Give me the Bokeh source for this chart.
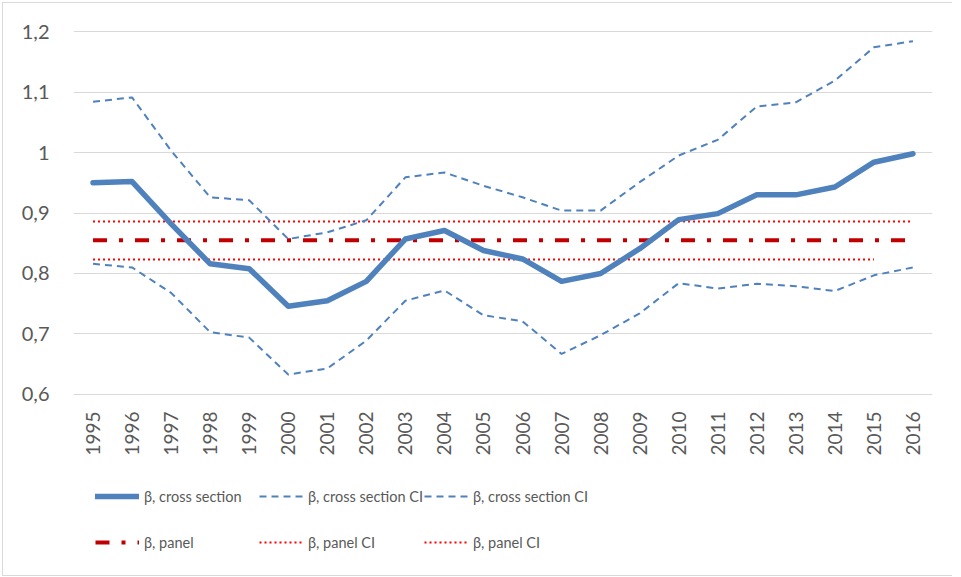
import math
from bokeh.plotting import figure
from bokeh.layouts import column
from bokeh.models import (Range1d, FixedTicker, Legend, LegendItem, ColumnDataSource)
from bokeh.embed import file_html
from bokeh.resources import INLINE

# ---------------- data ----------------
years = [1995, 1996, 1997, 1998, 1999, 2000, 2001, 2002, 2003, 2004, 2005,
         2006, 2007, 2008, 2009, 2010, 2011, 2012, 2013, 2014, 2015, 2016]
year_labels = [str(y) for y in years]

beta_cs = [0.950, 0.952, 0.882, 0.816, 0.808, 0.746, 0.755, 0.787, 0.857, 0.871, 0.838,
           0.824, 0.787, 0.800, 0.841, 0.889, 0.899, 0.930, 0.930, 0.943, 0.984, 0.998]
beta_cs_ci_upper = [1.084, 1.091, 1.003, 0.926, 0.921, 0.857, 0.868, 0.888, 0.959, 0.967, 0.945,
                    0.926, 0.904, 0.904, 0.951, 0.995, 1.021, 1.076, 1.083, 1.119, 1.174, 1.184]
beta_cs_ci_lower = [0.816, 0.810, 0.768, 0.703, 0.694, 0.633, 0.643, 0.689, 0.755, 0.772, 0.731,
                    0.721, 0.667, 0.698, 0.734, 0.784, 0.775, 0.783, 0.779, 0.771, 0.797, 0.810]
beta_panel = [0.855] * 22
beta_panel_ci_upper = [0.886] * 22
beta_panel_ci_lower = [0.823] * 21 + [float("nan")]

y_ticks = [0.6, 0.7, 0.8, 0.9, 1.0, 1.1, 1.2]
y_tick_labels = ["0,6", "0,7", "0,8", "0,9", "1", "1,1", "1,2"]

series_names = ["β, cross section", "β, cross section CI", "β, cross section CI",
                "β, panel", "β, panel CI", "β, panel CI"]

# ---------------- styling ----------------
BLUE = "#4f81bd"
DARK_RED = "#c00000"
RED = "#ff0000"
TEXT = "#595959"
GRID = "#d9d9d9"
FONT = "Lato"

STYLES = dict(
    pup=dict(line_color=RED, line_width=2, line_dash="2 3"),
    plo=dict(line_color=RED, line_width=2, line_dash="2 3"),
    pan=dict(line_color=DARK_RED, line_width=4, line_dash="14 12 4 12"),
    up=dict(line_color=BLUE, line_width=2, line_dash="7 5"),
    lo=dict(line_color=BLUE, line_width=2, line_dash="7 5"),
    cs=dict(line_color=BLUE, line_width=5.5, line_join="round", line_cap="round"),
)

src = ColumnDataSource(dict(x=years, cs=beta_cs, up=beta_cs_ci_upper, lo=beta_cs_ci_lower,
                            pan=beta_panel, pup=beta_panel_ci_upper, plo=beta_panel_ci_lower))

# ---------------- main chart ----------------
p = figure(width=965, height=476, output_backend="svg", toolbar_location=None,
           x_range=Range1d(1994.5, 2016.5), y_range=Range1d(0.5983, 1.2017),
           min_border_left=79, min_border_right=27, min_border_top=36, min_border_bottom=75)
p.outline_line_color = None
p.background_fill_color = "white"
p.border_fill_color = None

for key in ["pup", "plo", "pan", "up", "lo", "cs"]:
    p.line("x", key, source=src, **STYLES[key])

p.xaxis.ticker = FixedTicker(ticks=years)
p.xaxis.major_label_overrides = {y: l for y, l in zip(years, year_labels)}
p.xaxis.major_label_orientation = math.pi / 2
p.xaxis.axis_line_color = None
p.xaxis.major_tick_line_color = None
p.xaxis.minor_tick_line_color = None
p.xaxis.major_tick_out = 0
p.xaxis.major_tick_in = 0
p.xaxis.major_label_standoff = 16
p.xaxis.major_label_text_font = FONT
p.xaxis.major_label_text_font_size = "19px"
p.xaxis.major_label_text_color = TEXT

p.yaxis.ticker = FixedTicker(ticks=y_ticks)
p.yaxis.major_label_overrides = {t: l for t, l in zip(y_ticks, y_tick_labels)}
p.yaxis.axis_line_color = None
p.yaxis.major_tick_line_color = None
p.yaxis.minor_tick_line_color = None
p.yaxis.major_tick_out = 0
p.yaxis.major_tick_in = 0
p.yaxis.major_label_standoff = 24
p.yaxis.major_label_text_font = FONT
p.yaxis.major_label_text_font_size = "20px"
p.yaxis.major_label_text_color = TEXT

p.xgrid.grid_line_color = None
p.ygrid.ticker = FixedTicker(ticks=y_ticks)
p.ygrid.grid_line_color = GRID
p.ygrid.grid_line_width = 1

# ---------------- legend strip (frame aligned with the chart's frame) ----------------
q = figure(width=965, height=106, output_backend="svg", toolbar_location=None,
           x_range=Range1d(0, 1), y_range=Range1d(0, 1),
           x_axis_location=None, y_axis_location=None, min_border=0)
q.outline_line_color = None
q.xgrid.grid_line_color = None
q.ygrid.grid_line_color = None
q.background_fill_color = None
q.border_fill_color = None

# same series, drawn outside this strip's ranges so only their legend samples show
lr = {k: q.line("x", k, source=src, **STYLES[k]) for k in ["cs", "up", "lo", "pan", "pup", "plo"]}

cols = [
    (["cs", "pan"], [series_names[0], series_names[3]], 22),
    (["up", "pup"], [series_names[1], series_names[4]], 186),
    (["lo", "plo"], [series_names[2], series_names[5]], 351),
]
for keys, labels, xoff in cols:
    lg = Legend(items=[LegendItem(label=l, renderers=[lr[k]]) for k, l in zip(keys, labels)],
                location=(xoff, 24), orientation="vertical",
                glyph_width=44, glyph_height=20, label_height=20, label_standoff=5,
                spacing=26, padding=0, margin=0,
                border_line_alpha=0, background_fill_alpha=0,
                label_text_font=FONT, label_text_font_size="14.5px",
                label_text_color=TEXT)
    q.add_layout(lg, "center")

G = "linear-gradient(#d9d9d9,#d9d9d9)"
border_bg = (f"{G} 8px 8px / 1px 574px no-repeat, {G} 8px 8px / 950px 1px no-repeat, "
             f"{G} 8px 581px / 950px 1px no-repeat")
layout = column(p, q, spacing=0,
                styles={"margin": "-6px 0 0 -6px", "background": border_bg})

open("out.html", "w").write(file_html(layout, INLINE))
